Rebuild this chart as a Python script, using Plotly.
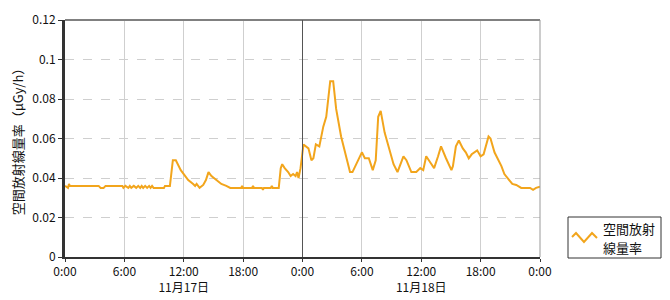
import pandas as pd
import plotly.graph_objects as go

# hours since 2023-11-17 00:00
hours = [0.0, 0.3, 0.4, 0.5, 3.4, 3.6, 3.9, 4.1, 5.8, 5.9, 6.1, 6.4, 6.55, 6.7, 6.95, 7.2, 7.4, 7.6, 7.75,
         7.9, 8.1, 8.3, 8.5, 8.65, 8.8, 8.95, 10.0, 10.1, 10.6, 10.8, 10.9, 11.2, 11.4, 11.7, 12.0, 12.45,
         12.95, 13.15, 13.3, 13.6, 13.97, 14.24, 14.5, 14.8, 15.3, 15.8, 16.3, 16.7, 17.8, 17.9, 18.0, 18.9,
         19.0, 19.1, 19.9, 20.0, 20.1, 20.8, 20.9, 21.0, 21.6, 21.8, 21.95, 22.2, 22.55, 22.8, 23.05, 23.3,
         23.45, 23.6, 23.8, 24.1, 24.6, 24.9, 25.1, 25.35, 25.7, 26.1, 26.4, 26.8, 27.1, 27.4, 27.9, 28.5,
         28.8, 29.05, 29.5, 30.0, 30.3, 30.7, 31.1, 31.4, 31.65, 31.9, 32.3, 32.8, 33.2, 33.6, 34.2, 34.5,
         35.0, 35.5, 35.9, 36.2, 36.5, 36.9, 37.3, 37.7, 38.0, 38.5, 39.05, 39.2, 39.5, 39.8, 40.2, 40.5,
         40.8, 41.1, 41.4, 41.65, 42.0, 42.3, 42.8, 43.0, 43.4, 43.8, 44.1, 44.4, 44.8, 45.2, 45.6, 46.1,
         47.0, 47.3, 47.6, 48.0]
dose = [0.036, 0.035, 0.037, 0.036, 0.036, 0.035, 0.035, 0.036, 0.036, 0.035, 0.036, 0.035, 0.036, 0.035,
        0.036, 0.035, 0.036, 0.035, 0.036, 0.035, 0.036, 0.035, 0.036, 0.035, 0.036, 0.035, 0.035, 0.036,
        0.036, 0.046, 0.049, 0.049, 0.047, 0.044, 0.042, 0.039, 0.037, 0.036, 0.037, 0.035, 0.0365, 0.039,
        0.043, 0.041, 0.039, 0.037, 0.036, 0.035, 0.035, 0.036, 0.035, 0.035, 0.036, 0.035, 0.035, 0.034,
        0.035, 0.035, 0.036, 0.035, 0.035, 0.045, 0.047, 0.045, 0.043, 0.041, 0.042, 0.041, 0.043, 0.040,
        0.045, 0.057, 0.055, 0.049, 0.050, 0.057, 0.056, 0.066, 0.071, 0.089, 0.089, 0.075, 0.061, 0.049,
        0.043, 0.043, 0.048, 0.053, 0.050, 0.050, 0.044, 0.049, 0.071, 0.074, 0.063, 0.054, 0.047, 0.043,
        0.051, 0.049, 0.043, 0.043, 0.045, 0.044, 0.051, 0.048, 0.045, 0.051, 0.056, 0.050, 0.044, 0.046,
        0.056, 0.059, 0.055, 0.053, 0.050, 0.052, 0.053, 0.054, 0.051, 0.052, 0.061, 0.060, 0.053, 0.049,
        0.046, 0.042, 0.0395, 0.037, 0.0365, 0.035, 0.035, 0.034, 0.035, 0.0356]

start = pd.Timestamp("2023-11-17 00:00")
tick_hours = [0, 6, 12, 18, 24, 30, 36, 42, 48]
tick_labels = ["0:00", "6:00", "12:00<br>11月17日", "18:00", "0:00", "6:00", "12:00<br>11月18日", "18:00", "0:00"]
legend_lines = ["空間放射", "線量率"]
y_title = "空間放射線量率（μGy/h）"

times = [start + pd.Timedelta(hours=h) for h in hours]
tickvals = [start + pd.Timedelta(hours=h) for h in tick_hours]

FONT = "Noto Sans CJK JP"
LINE_COLOR = "#F2A51C"
L, R, T, B, W, H = 65, 130, 20, 43, 670, 300
PW, PH = W - L - R, H - T - B


def px(xp):
    return (xp - L) / PW


def py(yp):
    return (H - B - yp) / PH


fig = go.Figure()
fig.add_trace(go.Scatter(x=times, y=dose, mode="lines", name="空間放射線量率",
                         line=dict(color=LINE_COLOR, width=2), showlegend=False))

fig.update_layout(
    width=W, height=H,
    margin=dict(l=L, r=R, t=T, b=B, autoexpand=False),
    paper_bgcolor="white", plot_bgcolor="white",
    font=dict(family=FONT, size=12, color="#111"),
    showlegend=False,
)
fig.update_xaxes(
    range=[tickvals[0], tickvals[-1]], tickmode="array", tickvals=tickvals, ticktext=tick_labels,
    showgrid=True, gridcolor="#cfcfcf", gridwidth=1,
    showline=True, linecolor="#333", linewidth=2, ticks="outside", ticklen=3, tickcolor="#333",
    tickfont=dict(size=12, family=FONT), zeroline=False,
)
fig.update_yaxes(
    range=[0, 0.12], dtick=0.02, showgrid=True, gridcolor="#cfcfcf", griddash="dash",
    showline=True, linecolor="#333", linewidth=3, ticks="outside", ticklen=4, tickcolor="#333",
    tickfont=dict(size=12, family=FONT), zeroline=False,
    title=dict(text=y_title, font=dict(size=13, family=FONT), standoff=6),
)
# frame: top (gray, thick), right (gray, thin), midnight separator
fig.add_shape(type="line", xref="paper", yref="paper", x0=0, x1=1, y0=1, y1=1,
              line=dict(color="#808080", width=2))
fig.add_shape(type="line", xref="paper", yref="paper", x0=1, x1=1, y0=0, y1=1,
              line=dict(color="#999", width=1))
fig.add_shape(type="line", xref="x", yref="paper", x0=tickvals[4], x1=tickvals[4], y0=0, y1=1,
              line=dict(color="#555", width=1))

# custom legend box with zig-zag icon
fig.add_shape(type="rect", xref="paper", yref="paper", x0=px(568), x1=px(661), y0=py(258), y1=py(217),
              line=dict(color="#333", width=1), fillcolor="white")
icon = [(572, 237), (576, 233), (584, 242), (592, 233), (597, 238)]
path = "M " + " L ".join(f"{px(a):.4f},{py(b):.4f}" for a, b in icon)
fig.add_shape(type="path", xref="paper", yref="paper", path=path,
              line=dict(color=LINE_COLOR, width=2))
for i, txt in enumerate(legend_lines):
    fig.add_annotation(xref="paper", yref="paper", x=px(601), y=py(228 + i * 19),
                       xanchor="left", yanchor="middle", text=txt, showarrow=False,
                       font=dict(size=13, family=FONT, color="#111"))

fig.write_html("out.html")
